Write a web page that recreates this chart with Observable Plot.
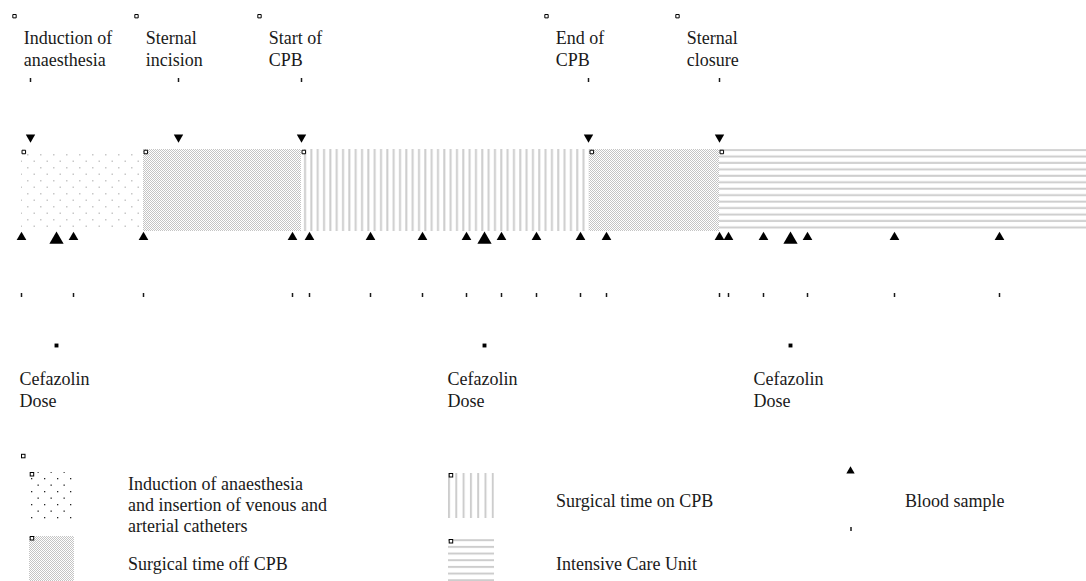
<!DOCTYPE html>
<html><head><meta charset="utf-8">
<script src="https://cdn.jsdelivr.net/npm/d3@7"></script>
<script src="https://cdn.jsdelivr.net/npm/@observablehq/plot@0.6"></script>
<style>
body{margin:0;background:#fff;}
#chart svg{display:block;}
</style></head><body><div id="chart"></div>
<script>
// ---------------- data (timeline units from start of induction) ----------------
const phaseKinds = ["induction", "offCPB", "onCPB", "offCPB", "icu"];
const phaseStart = [0, 122, 280, 568, 698];
const phaseEnd   = [122, 280, 568, 698, 1065];

const eventNames = ["Induction of\nanaesthesia", "Sternal\nincision", "Start of\nCPB", "End of\nCPB", "Sternal\nclosure"];
const eventTimes = [9, 157, 280, 567, 698];

const sampleTimes = [0, 52, 122, 271, 288, 349, 401, 445, 480, 515, 559, 585, 698, 707, 742, 786, 873, 978];
const doseTimes = [35, 463, 769];
const doseLabel = "Cefazolin\nDose";

const legendPhaseKinds = ["induction", "offCPB", "onCPB", "icu"];
const legendPhaseNames = ["Induction of anaesthesia\nand insertion of venous and\narterial catheters", "Surgical time off CPB", "Surgical time on CPB", "Intensive Care Unit"];
const legendSampleName = "Blood sample";

// ---------------- layout / style ----------------
const FONT = "Liberation Serif, Times New Roman, serif";
const INK = "#1a1a1a";
const ROW = {labelSquare: 15.7, labelText: 27.2, eventTick: [78, 82], downTri: 136.8,
             band: [149, 231], bandSquare: 151.5, upTri: 236.8, bigTri: 239.2,
             sampleTick: [293, 297], doseSquare: 345, doseText: 368.2};
const LABEL_MIN_T = 35;
const PATTERN = {induction: "url(#p-dots)", offCPB: "url(#p-check)", onCPB: "url(#p-vlines)", icu: "url(#p-hlines)"};

const phases = phaseKinds.map((k, i) => ({kind: k, start: phaseStart[i], end: phaseEnd[i]}));
const events = eventNames.map((n, i) => ({name: n, t: eventTimes[i]}));
const samples = sampleTimes.map(t => ({t}));
const doses = doseTimes.map(t => ({t, label: doseLabel}));

const plot = Plot.plot({
  width: 1086, height: 440, margin: 0,
  x: {domain: [0, 1065], range: [21, 1086], axis: null},
  y: {domain: [0, 440], range: [0, 440], axis: null},
  color: {type: "identity"},
  style: {fontFamily: FONT, background: "white", overflow: "visible"},
  marks: [
    Plot.rect(phases, {x1: "start", x2: "end", y1: ROW.band[0], y2: ROW.band[1], fill: d => PATTERN[d.kind]}),
    Plot.dot(phases, {x: "start", y: ROW.bandSquare, dx: 2.3, symbol: "square", r: 2, fill: "white", stroke: "black", strokeWidth: 1}),
    // event labels
    Plot.dot(events, {x: d => Math.max(d.t, LABEL_MIN_T), y: ROW.labelSquare, dx: -42, symbol: "square", r: 1.9, fill: "white", stroke: "black", strokeWidth: 1}),
    Plot.text(events, {x: d => Math.max(d.t, LABEL_MIN_T), y: ROW.labelText, dx: -32.7, text: "name", textAnchor: "start", lineAnchor: "top", lineHeight: 1.25, fontSize: 18, fill: INK}),
    Plot.ruleX(events, {x: "t", y1: ROW.eventTick[0], y2: ROW.eventTick[1], stroke: INK, strokeWidth: 1.5}),
    Plot.dot(events, {x: "t", y: ROW.downTri, symbol: "triangle", rotate: 180, r: 3.5, fill: "black"}),
    // blood samples
    Plot.dot(samples, {x: "t", y: ROW.upTri, symbol: "triangle", r: 3.6, fill: "black"}),
    Plot.ruleX(samples, {x: "t", y1: ROW.sampleTick[0], y2: ROW.sampleTick[1], stroke: INK, strokeWidth: 1.5}),
    // cefazolin doses
    Plot.dot(doses, {x: "t", y: ROW.bigTri, symbol: "triangle", r: 5.3, fill: "black"}),
    Plot.dot(doses, {x: "t", y: ROW.doseSquare, symbol: "square", r: 2.2, fill: "black"}),
    Plot.text(doses, {x: "t", y: ROW.doseText, dx: -37, text: "label", textAnchor: "start", lineAnchor: "top", lineHeight: 1.25, fontSize: 18, fill: INK})
  ]
});

function addPatterns(svg, dotColor, dotSize) {
  const defs = svg.insert("defs", ":first-child");
  const pd = defs.append("pattern").attr("id", "p-dots").attr("patternUnits", "userSpaceOnUse").attr("width", 13).attr("height", 13);
  pd.append("rect").attr("x", 1).attr("y", 11).attr("width", dotSize).attr("height", dotSize).attr("fill", dotColor);
  pd.append("rect").attr("x", 7.5).attr("y", 4.5).attr("width", dotSize).attr("height", dotSize).attr("fill", dotColor);
  const pc = defs.append("pattern").attr("id", "p-check").attr("patternUnits", "userSpaceOnUse").attr("width", 2).attr("height", 2);
  pc.append("rect").attr("width", 2).attr("height", 2).attr("fill", "white");
  pc.append("rect").attr("x", 0).attr("y", 0).attr("width", 1).attr("height", 1).attr("fill", "#c4c4c4");
  pc.append("rect").attr("x", 1).attr("y", 1).attr("width", 1).attr("height", 1).attr("fill", "#c4c4c4");
  const pv = defs.append("pattern").attr("id", "p-vlines").attr("patternUnits", "userSpaceOnUse").attr("width", 6.33).attr("height", 10);
  pv.append("rect").attr("x", 0.2).attr("y", 0).attr("width", 2).attr("height", 10).attr("fill", "#cdcdcd");
  const ph = defs.append("pattern").attr("id", "p-hlines").attr("patternUnits", "userSpaceOnUse").attr("width", 10).attr("height", 6.45);
  ph.append("rect").attr("x", 0).attr("y", 0.65).attr("width", 10).attr("height", 2).attr("fill", "#cdcdcd");
}
addPatterns(d3.select(plot), "#c8c8c8", 1.5);
document.getElementById("chart").appendChild(plot);

// ---------------- legend (below the plot) ----------------
const leg = d3.create("svg").attr("width", 1086).attr("height", 141)
  .style("display", "block").style("background", "white")
  .style("font-family", FONT).style("font-size", "18px");
const L = {y0: 440};
const lg = leg.append("g").attr("transform", `translate(0,${-L.y0})`);
// legend-specific patterns (darker dots, wider lines)
const ldefs = leg.insert("defs", ":first-child");
const lpd = ldefs.append("pattern").attr("id", "lp-dots").attr("patternUnits", "userSpaceOnUse").attr("width", 13).attr("height", 13).attr("x", 31).attr("y", 476 - L.y0);
lpd.append("rect").attr("x", 0).attr("y", 0).attr("width", 1.3).attr("height", 1.3).attr("fill", "#222");
lpd.append("rect").attr("x", 6.5).attr("y", 6.5).attr("width", 1.3).attr("height", 1.3).attr("fill", "#222");
const lpc = ldefs.append("pattern").attr("id", "lp-check").attr("patternUnits", "userSpaceOnUse").attr("width", 2).attr("height", 2);
lpc.append("rect").attr("width", 2).attr("height", 2).attr("fill", "white");
lpc.append("rect").attr("width", 1).attr("height", 1).attr("fill", "#c4c4c4");
lpc.append("rect").attr("x", 1).attr("y", 1).attr("width", 1).attr("height", 1).attr("fill", "#c4c4c4");
const lpv = ldefs.append("pattern").attr("id", "lp-vlines").attr("patternUnits", "userSpaceOnUse").attr("width", 7.3).attr("height", 10).attr("x", 448);
lpv.append("rect").attr("x", 0).attr("width", 2).attr("height", 10).attr("fill", "#cdcdcd");
const lph = ldefs.append("pattern").attr("id", "lp-hlines").attr("patternUnits", "userSpaceOnUse").attr("width", 10).attr("height", 6.67).attr("y", 539 - L.y0);
lph.append("rect").attr("y", 0).attr("width", 10).attr("height", 2).attr("fill", "#cdcdcd");
const LP = {induction: "url(#lp-dots)", offCPB: "url(#lp-check)", onCPB: "url(#lp-vlines)", icu: "url(#lp-hlines)"};

const hollow = (x, y) => lg.append("rect").attr("x", x).attr("y", y).attr("width", 3.5).attr("height", 3.5)
  .attr("fill", "white").attr("stroke", "black").attr("stroke-width", 1);
hollow(21.5, 454.3);

const LEG = [
  {sw: [29, 472, 45, 48], tx: 128, base: 490},
  {sw: [29, 536, 45, 45], tx: 128, base: 570},
  {sw: [448, 473, 46, 45], tx: 556, base: 507},
  {sw: [448, 539, 46, 42], tx: 556, base: 570}
];
legendPhaseKinds.forEach((k, i) => {
  const p = LEG[i];
  lg.append("rect").attr("x", p.sw[0]).attr("y", p.sw[1]).attr("width", p.sw[2]).attr("height", p.sw[3]).attr("fill", LP[k]);
  hollow(p.sw[0] + 1.2, p.sw[1] + 0.5);
  const t = lg.append("text").attr("x", p.tx).attr("y", p.base).attr("fill", INK);
  legendPhaseNames[i].split("\n").forEach((line, j) => {
    t.append("tspan").attr("x", p.tx).attr("dy", j === 0 ? 0 : 21).text(line);
  });
});
// blood sample legend
lg.append("path").attr("transform", "translate(850.5,471)")
  .attr("d", d3.symbol(d3.symbolTriangle, 30)()).attr("fill", "black");
lg.append("line").attr("x1", 851).attr("x2", 851).attr("y1", 527).attr("y2", 531).attr("stroke", INK).attr("stroke-width", 1.5);
lg.append("text").attr("x", 905).attr("y", 507).attr("fill", INK).text(legendSampleName);

document.getElementById("chart").appendChild(leg.node());
</script>
</body></html>
